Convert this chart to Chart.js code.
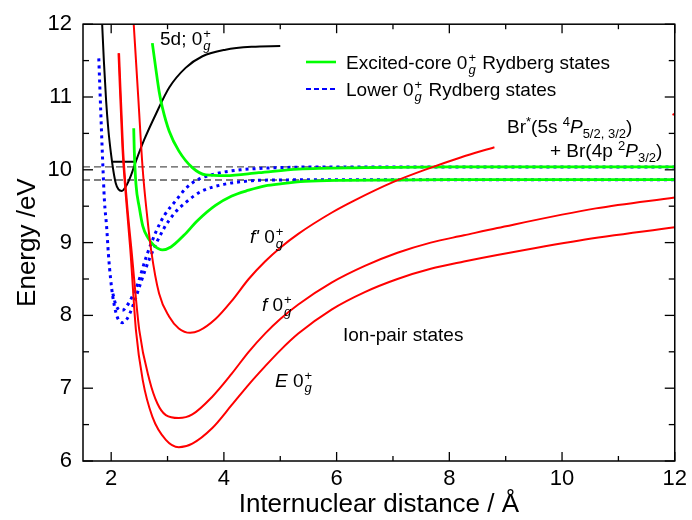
<!DOCTYPE html>
<html>
<head>
<meta charset="utf-8">
<script src="https://cdn.jsdelivr.net/npm/chart.js@4.4.0/dist/chart.umd.min.js"></script>
<style>
  html, body { margin: 0; padding: 0; background: #fff; }
  canvas { display: block; }
</style>
</head>
<body>
<canvas id="chart" width="692" height="520" style="width:692px;height:520px"></canvas>
<script>
// ============================= data

const xTicks = [2, 4, 6, 8, 10, 12]
const yTicks = [6, 7, 8, 9, 10, 11, 12]

// 5d; 0g+ state and its lowest level
const x5d = [1.84, 1.87, 1.91, 1.95, 2.0, 2.04, 2.08, 2.13, 2.19, 2.26, 2.35, 2.44, 2.59, 2.79, 3.03, 3.32, 3.62, 4.03, 4.5, 5.0]
const y5d = [12.0, 11.5, 10.95, 10.55, 10.2, 9.98, 9.82, 9.73, 9.71, 9.77, 9.92, 10.12, 10.42, 10.76, 11.13, 11.40, 11.56, 11.65, 11.69, 11.70]
const xLevel = [2.03, 2.41]
const yLevel = [10.11, 10.11]

// lower 0g+ Rydberg states (blue dashed)
const xLow1 = [1.78, 1.815, 1.85, 1.88, 1.92, 1.95, 1.99, 2.03, 2.08, 2.13, 2.2, 2.28, 2.38, 2.53, 2.68, 2.94, 3.12, 3.32, 3.59, 4.0, 4.5, 5.0, 6.0, 8.0, 12.0]
const yLow1 = [11.53, 10.8, 10.1, 9.58, 9.21, 8.85, 8.5, 8.25, 8.05, 7.94, 7.9, 7.95, 8.12, 8.46, 8.78, 9.2, 9.4, 9.55, 9.7, 9.8, 9.85, 9.86, 9.865, 9.865, 9.865]
const xLow2 = [2.03, 2.08, 2.14, 2.2, 2.27, 2.38, 2.47, 2.62, 2.79, 2.94, 3.15, 3.32, 3.5, 3.88, 4.3, 5.0, 6.0, 8.0, 12.0]
const yLow2 = [8.3, 8.15, 8.08, 8.07, 8.12, 8.27, 8.43, 8.8, 9.14, 9.37, 9.58, 9.74, 9.85, 9.95, 10.0, 10.03, 10.04, 10.04, 10.04]

// excited-core 0g+ Rydberg states (green)
const xCore1 = [2.4, 2.41, 2.44, 2.5, 2.56, 2.65, 2.76, 2.91, 3.06, 3.29, 3.53, 3.85, 4.14, 4.44, 4.73, 5.03, 5.44, 6.0, 7.0, 8.0, 12.0]
const yCore1 = [10.57, 10.26, 9.8, 9.48, 9.23, 9.07, 8.96, 8.9, 8.94, 9.1, 9.3, 9.51, 9.64, 9.72, 9.78, 9.81, 9.84, 9.855, 9.86, 9.865, 9.865]
const xCore2 = [2.73, 2.79, 2.85, 2.91, 3.03, 3.2, 3.44, 3.68, 4.03, 4.62, 5.32, 6.5, 8.0, 12.0]
const yCore2 = [11.74, 11.4, 11.08, 10.85, 10.53, 10.26, 10.03, 9.93, 9.92, 9.96, 10.01, 10.03, 10.04, 10.04]

// ion-pair states (red)
const xE = [2.13, 2.2, 2.27, 2.34, 2.44, 2.56, 2.73, 2.97, 3.2, 3.44, 3.79, 4.14, 4.44, 4.73, 5.0, 5.32, 5.91, 6.5, 7.08, 7.67, 8.26, 8.85, 10.31, 12.0]
const yE = [11.6, 10.3, 9.55, 8.9, 7.79, 7.11, 6.61, 6.29, 6.19, 6.24, 6.45, 6.77, 7.05, 7.3, 7.52, 7.75, 8.08, 8.32, 8.5, 8.64, 8.74, 8.83, 9.03, 9.21]
const xF = [2.14, 2.21, 2.28, 2.36, 2.5, 2.68, 2.82, 2.97, 3.2, 3.44, 3.79, 4.14, 4.44, 4.73, 5.0, 5.32, 5.91, 6.5, 7.08, 7.67, 8.26, 8.85, 10.6, 12.0]
const yF = [11.6, 10.3, 9.55, 8.9, 7.79, 7.11, 6.79, 6.63, 6.59, 6.64, 6.88, 7.2, 7.5, 7.75, 7.95, 8.15, 8.45, 8.68, 8.86, 9.0, 9.1, 9.2, 9.47, 9.62]
const xFp = [2.4, 2.48, 2.56, 2.64, 2.71, 2.85, 3.03, 3.2, 3.4, 3.56, 3.85, 4.14, 4.44, 4.73, 5.0, 5.32, 5.91, 6.32, 7.0, 7.64, 8.2, 8.8]
const yFp = [12.0, 11.0, 10.0, 9.35, 8.89, 8.3, 7.98, 7.82, 7.76, 7.79, 7.95, 8.2, 8.5, 8.74, 8.93, 9.12, 9.41, 9.58, 9.83, 10.02, 10.17, 10.31]
const xEdge = [11.96, 12.0]
const yEdge = [10.755, 10.77]

// dissociation limits (grey dashed)
const xLimit = [1.5, 12]
const yLimitUp = [10.04, 10.04]
const yLimitLo = [9.86, 9.86]

// ============================= helpers

const FONT = '"Liberation Sans", Arial, sans-serif'
const pts = (xs, ys) => xs.map((x, i) => ({ x: x, y: ys[i] }))

const curve = (xs, ys, color, width, order, dash) => ({
    data: pts(xs, ys),
    borderColor: color,
    borderWidth: width,
    borderDash: dash || [],
    pointRadius: 0,
    fill: false,
    cubicInterpolationMode: 'monotone',
    order: order
})

// draws text with italics, sub/superscripts and stacked g / + indices
const richText = (ctx, x, y, parts, size) => {
    let cx = x
    const small = Math.round(size * 0.68)
    for (const p of parts) {
        if (p.stack) {
            ctx.font = `${small}px ${FONT}`
            const w1 = ctx.measureText(p.stack[0]).width
            ctx.fillText(p.stack[0], cx + 1, y - size * 0.38)
            ctx.font = `italic ${small}px ${FONT}`
            const w2 = ctx.measureText(p.stack[1]).width
            ctx.fillText(p.stack[1], cx + 1, y + size * 0.28)
            cx += Math.max(w1, w2) + 2
        } else if (p.sup !== undefined) {
            ctx.font = `${small}px ${FONT}`
            ctx.fillText(p.sup, cx, y - size * 0.38)
            cx += ctx.measureText(p.sup).width
        } else if (p.sub !== undefined) {
            ctx.font = `${small}px ${FONT}`
            ctx.fillText(p.sub, cx, y + size * 0.28)
            cx += ctx.measureText(p.sub).width
        } else {
            ctx.font = `${p.it ? 'italic ' : ''}${size}px ${FONT}`
            ctx.fillText(p.t, cx, y)
            cx += ctx.measureText(p.t).width
        }
    }
}

// ============================= frame with inward ticks on all four sides

const frame = {
    id: 'frame',
    afterDraw(chart) {
        const { ctx, chartArea: a, scales: { x, y } } = chart
        const line = (x1, y1, x2, y2) => { ctx.beginPath(); ctx.moveTo(x1, y1); ctx.lineTo(x2, y2); ctx.stroke() }
        ctx.save()
        ctx.strokeStyle = '#000'
        ctx.lineWidth = 1.5
        ctx.strokeRect(a.left, a.top, a.right - a.left, a.bottom - a.top)
        ctx.lineWidth = 1.3
        for (let i = 0; i < xTicks.length; i++) {
            const px = x.getPixelForValue(xTicks[i])
            line(px, a.bottom, px, a.bottom - 9)
            line(px, a.top, px, a.top + 9)
            if (xTicks[i] - 1 > x.min) {
                const mx = x.getPixelForValue(xTicks[i] - 1)
                line(mx, a.bottom, mx, a.bottom - 5)
                line(mx, a.top, mx, a.top + 5)
            }
        }
        for (let i = 0; i < yTicks.length; i++) {
            const py = y.getPixelForValue(yTicks[i])
            line(a.left, py, a.left + 10, py)
            line(a.right, py, a.right - 10, py)
            if (i > 0) {
                const my = y.getPixelForValue((yTicks[i] + yTicks[i - 1]) / 2)
                line(a.left, my, a.left + 6, my)
                line(a.right, my, a.right - 6, my)
            }
        }
        ctx.restore()
    }
}

// ============================= labels and legend

const labels = {
    id: 'labels',
    afterDraw(chart) {
        const ctx = chart.ctx
        ctx.save()
        ctx.fillStyle = '#000'
        ctx.textBaseline = 'alphabetic'
        ctx.textAlign = 'left'

        richText(ctx, 160, 45, [{ t: '5d; 0' }, { stack: ['+', 'g'] }], 19)

        // legend
        ctx.lineWidth = 2.6
        ctx.strokeStyle = '#00ff00'
        ctx.beginPath(); ctx.moveTo(306, 62); ctx.lineTo(336, 62); ctx.stroke()
        ctx.strokeStyle = '#0000ff'
        ctx.lineWidth = 2
        ctx.setLineDash([5, 3])
        ctx.beginPath(); ctx.moveTo(306, 89); ctx.lineTo(336, 89); ctx.stroke()
        ctx.setLineDash([])
        richText(ctx, 346, 69, [{ t: 'Excited-core 0' }, { stack: ['+', 'g'] }, { t: ' Rydberg states' }], 19)
        richText(ctx, 346, 96, [{ t: 'Lower 0' }, { stack: ['+', 'g'] }, { t: ' Rydberg states' }], 19)

        richText(ctx, 507, 133, [{ t: 'Br' }, { sup: '*' }, { t: '(5s ' }, { sup: '4' }, { t: 'P', it: true }, { sub: '5/2, 3/2' }, { t: ')' }], 19)
        richText(ctx, 550, 157, [{ t: '+ Br(4p ' }, { sup: '2' }, { t: 'P', it: true }, { sub: '3/2' }, { t: ')' }], 19)

        richText(ctx, 250, 243, [{ t: "f'", it: true }, { t: ' 0' }, { stack: ['+', 'g'] }], 19)
        richText(ctx, 262, 311, [{ t: 'f', it: true }, { t: ' 0' }, { stack: ['+', 'g'] }], 19)
        richText(ctx, 275, 387, [{ t: 'E', it: true }, { t: ' 0' }, { stack: ['+', 'g'] }], 19)
        richText(ctx, 343, 341, [{ t: 'Ion-pair states' }], 19)
        ctx.restore()
    }
}

// ============================= chart

new Chart(document.getElementById('chart'), {
    type: 'line',
    data: {
        datasets: [
            curve(xE, yE, '#ff0000', 2, 0),
            curve(xF, yF, '#ff0000', 2, 0),
            curve(xFp, yFp, '#ff0000', 2, 0),
            curve(xEdge, yEdge, '#ff0000', 2, 0),
            curve(xCore1, yCore1, '#00ff00', 2.8, 1),
            curve(xCore2, yCore2, '#00ff00', 2.8, 1),
            curve(x5d, y5d, '#000000', 2, 2),
            curve(xLevel, yLevel, '#000000', 2, 2),
            curve(xLow1, yLow1, '#0000ff', 3, 3, [3, 4]),
            curve(xLow2, yLow2, '#0000ff', 3, 3, [3, 4]),
            curve(xLimit, yLimitUp, '#555555', 1.3, 4, [7, 4]),
            curve(xLimit, yLimitLo, '#555555', 1.3, 4, [7, 4])
        ]
    },
    options: {
        responsive: false,
        animation: false,
        events: [],
        layout: { padding: { left: 0, right: 13, top: 23, bottom: 0 } },
        plugins: {
            legend: { display: false },
            tooltip: { enabled: false }
        },
        scales: {
            x: {
                type: 'linear',
                min: 1.5,
                max: 12,
                afterBuildTicks: (s) => { s.ticks = xTicks.map(v => ({ value: v })) },
                afterFit: (s) => { s.height = 59 },
                grid: { display: false, drawTicks: false },
                border: { display: false },
                ticks: { color: '#000', padding: 5, font: { family: FONT, size: 22 } },
                title: {
                    display: true,
                    text: 'Internuclear distance / Å',
                    color: '#000',
                    font: { family: FONT, size: 26, lineHeight: 1.2 },
                    padding: { top: 0, bottom: 0 }
                }
            },
            y: {
                type: 'linear',
                min: 6,
                max: 12,
                afterBuildTicks: (s) => { s.ticks = yTicks.map(v => ({ value: v })) },
                afterFit: (s) => { s.width = 83 },
                grid: { display: false, drawTicks: false },
                border: { display: false },
                ticks: { color: '#000', padding: 11, font: { family: FONT, size: 22 } },
                title: {
                    display: true,
                    text: 'Energy /eV',
                    color: '#000',
                    font: { family: FONT, size: 26, lineHeight: 1.2 },
                    padding: { top: 12, bottom: 0 }
                }
            }
        }
    },
    plugins: [frame, labels]
})
</script>
</body>
</html>
